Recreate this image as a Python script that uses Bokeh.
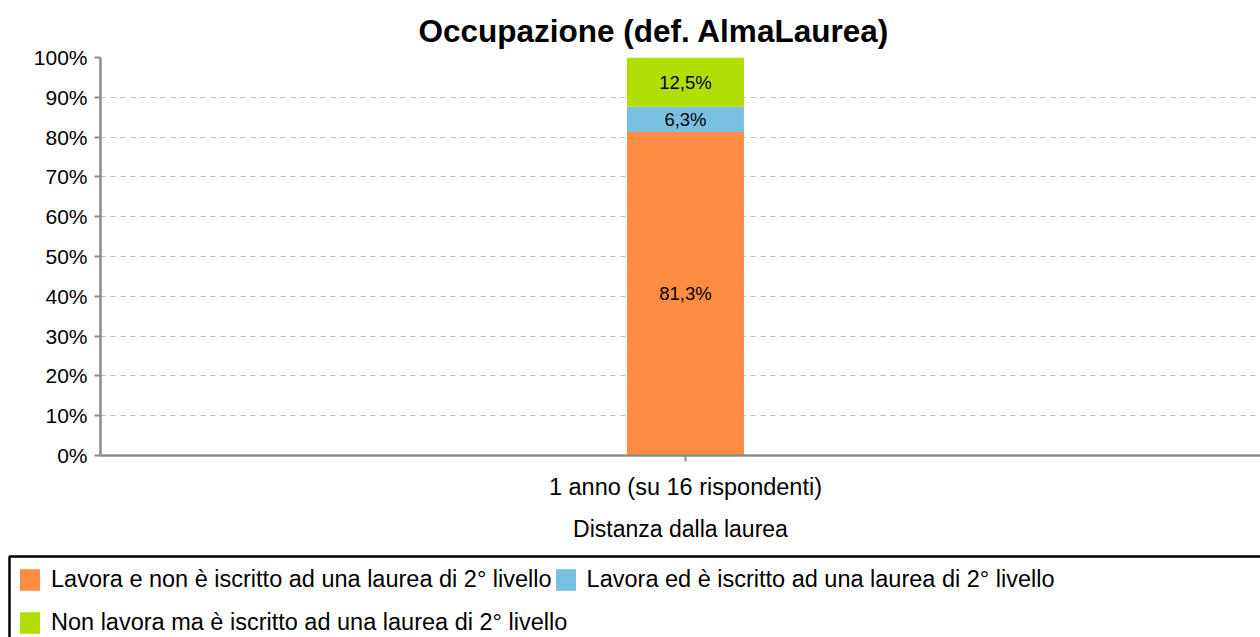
import numpy as np
from bokeh.plotting import figure
from bokeh.layouts import column
from bokeh.models import (Range1d, FixedTicker, Legend, LegendItem, ColumnDataSource,
                          PrintfTickFormatter, BoxAnnotation)
from bokeh.core.properties import value
from bokeh.embed import file_html
from bokeh.resources import INLINE

# ---- data ----
categories = ["1 anno (su 16 rispondenti)"]
series_names = ["Lavora e non è iscritto ad una laurea di 2° livello",
                "Lavora ed è iscritto ad una laurea di 2° livello",
                "Non lavora ma è iscritto ad una laurea di 2° livello"]
lavora_non_iscritto = [81.3]
lavora_iscritto = [6.3]
non_lavora_iscritto = [12.5]
colors = ["#FF8C42", "#78C0E2", "#B2DE05"]
y_ticks = [0, 10, 20, 30, 40, 50, 60, 70, 80, 90, 100]

FONT = "Liberation Sans"

p = figure(width=1260, height=554, output_backend="svg", toolbar_location=None,
           x_range=Range1d(0, 1.983), y_range=Range1d(0, 100),
           min_border_left=100, min_border_right=0, min_border_top=57,
           min_border_bottom=99)
p.outline_line_color = None
p.frame_align = False

p.title.text = "Occupazione (def. AlmaLaurea)"
p.title.text_font = FONT
p.title.text_font_size = "31.5px"
p.title.text_font_style = "bold"
p.title.text_color = "black"
p.title.align = "left"
p.title.offset = 318
p.title.standoff = 18

xs = [i + 1 for i in range(len(categories))]
series = [lavora_non_iscritto, lavora_iscritto, non_lavora_iscritto]
lx, ly, lt = [], [], []
stacks = []
bottom = np.zeros(len(categories))
for vals in series:
    v = np.array(vals, dtype=float)
    top = bottom + v
    stacks.append((bottom.copy(), top.copy()))
    for x, b, t, val in zip(xs, bottom, top, v):
        lx.append(x)
        ly.append((b + min(t, 100)) / 2)
        lt.append(f"{val:.1f}".replace(".", ",") + "%")
    bottom = top

for (b, t), col in zip(stacks, colors):
    p.vbar(x=xs, bottom=b, top=t, width=0.2, fill_color=col, line_color=None)

src = ColumnDataSource(dict(x=lx, y=ly, t=lt))
p.text(x="x", y="y", text="t", source=src, text_align="center", text_baseline="middle",
       text_font=value(FONT), text_font_size="18.5px", text_color="black")

# axes
p.yaxis.ticker = FixedTicker(ticks=y_ticks)
p.yaxis.formatter = PrintfTickFormatter(format="%d%%")
p.xaxis.ticker = FixedTicker(ticks=xs)
p.xaxis.major_label_overrides = {x: c for x, c in zip(xs, categories)}
p.xaxis.axis_label = "Distanza dalla laurea"
for ax in (p.xaxis, p.yaxis):
    ax.axis_line_color = "#8c8c8c"
    ax.axis_line_width = 2.5
    ax.major_tick_line_color = "#8c8c8c"
    ax.major_tick_line_width = 2
    ax.major_tick_out = 6
    ax.major_tick_in = 0
    ax.minor_tick_line_color = None
    ax.major_label_text_font = FONT
    ax.major_label_text_color = "black"
    ax.axis_label_text_font = FONT
    ax.axis_label_text_font_style = "normal"
    ax.axis_label_text_color = "black"
p.yaxis.major_label_text_font_size = "21px"
p.xaxis.major_label_text_font_size = "23.5px"
p.xaxis.axis_label_text_font_size = "23px"
p.yaxis.major_label_standoff = 7
p.xaxis.major_label_standoff = 12
p.xaxis.axis_label_standoff = 13

p.xgrid.grid_line_color = None
p.ygrid.grid_line_color = "#bdbdbd"
p.ygrid.grid_line_dash = "5 5"
p.ygrid.grid_line_width = 1

# ---- legend panel (box under the chart) ----
p2 = figure(width=1260, height=83, output_backend="svg", toolbar_location=None,
            x_axis_type=None, y_axis_type=None,
            x_range=Range1d(-10, -9), y_range=Range1d(0, 100),
            min_border=0, min_border_left=0, min_border_right=0,
            min_border_top=0, min_border_bottom=0)
p2.frame_align = False
p2.xgrid.grid_line_color = None
p2.ygrid.grid_line_color = None
p2.outline_line_color = None

# legend frame: left and top edges visible, the rest runs past the page edge
p2.add_layout(BoxAnnotation(left=9, right=3000, top=81, bottom=-300,
                            left_units="screen", right_units="screen",
                            top_units="screen", bottom_units="screen",
                            fill_alpha=0, line_color="black", line_width=2.5,
                            line_alpha=1))

leg_renderers = [p2.vbar(x=xs, bottom=b, top=t, width=0.2, fill_color=col, line_color=None)
                 for (b, t), col in zip(stacks, colors)]

def make_legend(idx, loc):
    lg = Legend(items=[LegendItem(label=series_names[i], renderers=[leg_renderers[i]]) for i in idx],
                location=loc, orientation="horizontal")
    lg.border_line_color = None
    lg.background_fill_alpha = 0
    lg.label_text_font = FONT
    lg.label_text_font_size = "23.5px"
    lg.label_text_color = "black"
    lg.glyph_width = 25
    lg.glyph_height = 27
    lg.label_height = 27
    lg.label_standoff = 9
    lg.spacing = 1
    lg.padding = 0
    lg.margin = 0
    return lg

p2.add_layout(make_legend([0, 1], (17, 44)), "center")
p2.add_layout(make_legend([2], (17, 1)), "center")

layout = column(p, p2, spacing=0)
open("out.html", "w").write(file_html(layout, INLINE))
